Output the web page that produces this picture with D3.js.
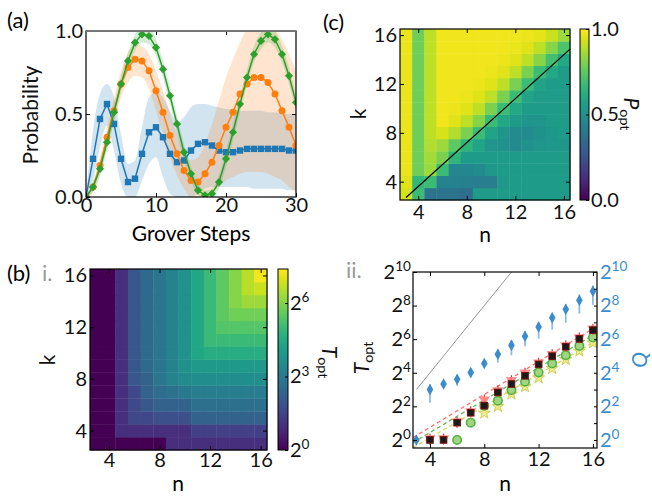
<!DOCTYPE html>
<html>
<head>
<meta charset="utf-8">
<script src="https://cdn.jsdelivr.net/npm/d3@7"></script>
<style>
  body { margin: 0; background: #fff; }
  svg { display: block; font-family: Lato, "DejaVu Sans", sans-serif; }
</style>
</head>
<body>
<div id="chart"></div>
<script>
// ---------- panel (a): success probability vs Grover steps
const steps = d3.range(0, 31);
const probBlue   = [0, 0.23, 0.47, 0.56, 0.44, 0.23, 0.09, 0.11, 0.26, 0.39, 0.42, 0.36, 0.26, 0.21, 0.22, 0.28, 0.32, 0.33, 0.31, 0.28, 0.27, 0.27, 0.28, 0.29, 0.29, 0.29, 0.29, 0.29, 0.29, 0.28, 0.28];
const blueHi     = [0, 0.40, 0.62, 0.68, 0.60, 0.38, 0.20, 0.22, 0.42, 0.60, 0.63, 0.60, 0.52, 0.45, 0.48, 0.54, 0.56, 0.56, 0.55, 0.54, 0.53, 0.53, 0.52, 0.52, 0.52, 0.52, 0.51, 0.51, 0.50, 0.50, 0.50];
const blueLo     = [0, 0.10, 0.30, 0.43, 0.28, 0.08, 0.00, 0.00, 0.10, 0.20, 0.24, 0.12, 0.02, 0.00, 0.00, 0.00, 0.02, 0.05, 0.06, 0.06, 0.06, 0.06, 0.06, 0.06, 0.05, 0.05, 0.05, 0.05, 0.05, 0.04, 0.04];
const probOrange = [0, 0.06, 0.19, 0.36, 0.52, 0.68, 0.78, 0.83, 0.82, 0.76, 0.64, 0.51, 0.37, 0.26, 0.16, 0.10, 0.09, 0.14, 0.21, 0.31, 0.42, 0.51, 0.62, 0.68, 0.72, 0.72, 0.69, 0.62, 0.52, 0.42, 0.31];
const orangeHi   = [0, 0.09, 0.24, 0.42, 0.60, 0.76, 0.87, 0.92, 0.91, 0.86, 0.76, 0.64, 0.50, 0.38, 0.28, 0.22, 0.24, 0.32, 0.44, 0.58, 0.72, 0.83, 0.93, 1.00, 1.00, 1.00, 1.00, 1.00, 0.95, 0.86, 0.76];
const orangeLo   = [0, 0.03, 0.14, 0.30, 0.45, 0.60, 0.69, 0.73, 0.72, 0.65, 0.52, 0.38, 0.24, 0.13, 0.05, 0.00, 0.00, 0.00, 0.02, 0.06, 0.10, 0.12, 0.14, 0.15, 0.15, 0.15, 0.14, 0.12, 0.10, 0.06, 0.03];
const probGreen  = [0, 0.06, 0.17, 0.33, 0.51, 0.68, 0.82, 0.93, 0.98, 0.97, 0.90, 0.77, 0.61, 0.44, 0.27, 0.14, 0.04, 0.01, 0.02, 0.09, 0.23, 0.39, 0.56, 0.72, 0.86, 0.94, 0.98, 0.95, 0.86, 0.73, 0.57];
const greenHi    = [0, 0.09, 0.21, 0.38, 0.56, 0.73, 0.87, 0.98, 1.03, 1.02, 0.95, 0.82, 0.66, 0.49, 0.32, 0.18, 0.08, 0.04, 0.05, 0.13, 0.28, 0.44, 0.61, 0.77, 0.91, 0.99, 1.03, 1.00, 0.91, 0.78, 0.62];
const greenLo    = [0, 0.03, 0.13, 0.28, 0.46, 0.63, 0.77, 0.88, 0.93, 0.92, 0.85, 0.72, 0.56, 0.39, 0.22, 0.10, 0.01, 0.00, 0.00, 0.05, 0.18, 0.34, 0.51, 0.67, 0.81, 0.89, 0.93, 0.90, 0.81, 0.68, 0.52];

// ---------- panel (c): P_opt grid, rows k = 3..16, columns n = 3..16
const nVals = [3, 4, 5, 6, 7, 8, 9, 10, 11, 12, 13, 14, 15, 16];
const kVals = [3, 4, 5, 6, 7, 8, 9, 10, 11, 12, 13, 14, 15, 16];
const pOpt = [
  [0.93, 0.68, 0.38, 0.38, 0.38, 0.36, 0.55, 0.55, 0.55, 0.55, 0.55, 0.55, 0.55, 0.55],
  [0.95, 0.66, 0.68, 0.44, 0.44, 0.43, 0.42, 0.42, 0.53, 0.55, 0.55, 0.55, 0.55, 0.55],
  [0.97, 0.78, 0.85, 0.68, 0.46, 0.46, 0.48, 0.53, 0.55, 0.55, 0.55, 0.55, 0.55, 0.55],
  [0.97, 0.78, 0.86, 0.80, 0.65, 0.55, 0.55, 0.55, 0.55, 0.55, 0.55, 0.55, 0.55, 0.55],
  [0.97, 0.78, 0.88, 0.85, 0.75, 0.65, 0.58, 0.52, 0.50, 0.48, 0.50, 0.52, 0.53, 0.53],
  [0.97, 0.78, 0.90, 0.94, 0.88, 0.80, 0.68, 0.58, 0.52, 0.48, 0.48, 0.50, 0.53, 0.55],
  [0.97, 0.78, 0.90, 0.98, 0.95, 0.90, 0.82, 0.68, 0.60, 0.55, 0.52, 0.52, 0.55, 0.55],
  [0.97, 0.78, 0.90, 0.98, 0.97, 0.95, 0.90, 0.80, 0.68, 0.60, 0.55, 0.55, 0.55, 0.55],
  [0.97, 0.78, 0.90, 0.98, 0.98, 0.97, 0.95, 0.90, 0.80, 0.68, 0.58, 0.55, 0.55, 0.55],
  [0.97, 0.78, 0.90, 0.98, 0.98, 0.98, 0.97, 0.95, 0.90, 0.80, 0.68, 0.58, 0.55, 0.55],
  [0.97, 0.78, 0.90, 0.98, 0.98, 0.98, 0.98, 0.97, 0.95, 0.90, 0.80, 0.68, 0.60, 0.55],
  [0.97, 0.78, 0.90, 0.98, 0.98, 0.98, 0.98, 0.98, 0.97, 0.95, 0.90, 0.82, 0.70, 0.60],
  [0.97, 0.78, 0.90, 0.98, 0.98, 0.98, 0.98, 0.98, 0.98, 0.97, 0.95, 0.90, 0.82, 0.72],
  [0.97, 0.78, 0.90, 0.98, 0.98, 0.98, 0.98, 0.98, 0.98, 0.98, 0.97, 0.96, 0.92, 0.85]
];
const diagLine = [[3, 2.7], [16.5, 14.85]];

// ---------- panel (b)i: log2(T_opt) grid, rows k = 3..16, columns n = 3..16
const tOptExp = [
  [0, 0, 0, 0, 0, 0, 1, 1, 1, 1, 1, 1, 1, 1],
  [0, 0, 1, 1, 1, 1, 1, 1, 1.4, 1.4, 1.4, 1.4, 1.4, 1.4],
  [0, 0, 1, 1.6, 1.6, 1.8, 1.8, 1.8, 2.3, 2.3, 2.3, 2.3, 2.3, 2.3],
  [0, 0, 1, 1.6, 2.0, 2.3, 2.3, 2.3, 2.7, 2.7, 2.7, 2.7, 2.7, 2.7],
  [0, 0, 1, 1.6, 2.3, 2.6, 2.8, 3.0, 3.1, 3.1, 3.1, 3.1, 3.1, 3.1],
  [0, 0, 1, 2.0, 2.3, 2.9, 3.3, 3.5, 3.6, 3.6, 3.6, 3.6, 3.6, 3.6],
  [0, 0, 1, 2.0, 2.5, 2.9, 3.3, 3.7, 4.0, 4.0, 4.0, 4.0, 4.0, 4.0],
  [0, 0, 1, 2.0, 2.5, 2.9, 3.3, 3.7, 4.4, 4.6, 4.6, 4.6, 4.6, 4.6],
  [0, 0, 1, 2.0, 2.5, 2.9, 3.3, 3.7, 4.4, 5.0, 5.0, 5.0, 5.0, 5.0],
  [0, 0, 1, 2.0, 2.5, 2.9, 3.3, 3.7, 4.4, 5.0, 5.4, 5.4, 5.4, 5.4],
  [0, 0, 1, 2.0, 2.5, 2.9, 3.3, 3.7, 4.4, 5.0, 5.55, 5.8, 5.8, 5.8],
  [0, 0, 1, 2.0, 2.5, 2.9, 3.3, 3.7, 4.4, 5.0, 5.55, 6.05, 6.3, 6.3],
  [0, 0, 1, 2.0, 2.5, 2.9, 3.3, 3.7, 4.4, 5.0, 5.55, 6.05, 6.6, 6.8],
  [0, 0, 1, 2.0, 2.5, 2.9, 3.3, 3.7, 4.4, 5.0, 5.55, 6.05, 6.6, 7.25]
];
const tOptMaxExp = 7.39;

// ---------- panel (b)ii: log2 values vs n
const nQ      = [3, 4, 5, 6, 7, 8, 9, 10, 11, 12, 13, 14, 15, 16];
const qExp    = [0, 3.01, 3.33, 3.62, 4.02, 4.55, 5.1, 5.64, 6.18, 6.73, 7.27, 7.78, 8.32, 8.85];
const qErrUp  = [0.1, 0.3, 0.15, 0.25, 0.25, 0.15, 0.3, 0.3, 0.3, 0.3, 0.3, 0.3, 0.35, 0.35];
const qErrDn  = [0.1, 0.8, 0.2, 0.4, 0.3, 0.2, 0.5, 0.6, 0.6, 0.7, 0.7, 0.8, 0.8, 0.8];
const nT      = [4, 5, 6, 7, 8, 9, 10, 11, 12, 13, 14, 15, 16];
const tBlack  = [0, 0, 1.03, 1.62, 2.04, 2.83, 3.33, 3.82, 4.5, 4.99, 5.55, 6.02, 6.54];
const tRed    = [0.08, 0.08, 1.08, 1.7, 2.4, 2.95, 3.55, 4.0, 4.6, 5.1, 5.62, 6.1, 6.62];
const nGreen  = [6, 7, 8, 9, 10, 11, 12, 13, 14, 15, 16];
const tGreen  = [0, 1.03, 2.04, 2.34, 2.97, 3.47, 4.02, 4.55, 5.05, 5.6, 6.1];
const nStar   = [8, 9, 10, 11, 12, 13, 14, 15, 16];
const tStar   = [1.6, 2.0, 2.73, 3.17, 3.7, 4.26, 4.79, 5.29, 5.78];
const fitRed    = [[2.75, 0.14], [16.3, 6.77]];
const fitGreen  = [[2.75, -0.16], [16.3, 6.38]];
const fitYellow = [[2.75, -0.46], [16.3, 5.94]];
const refLine   = [[3, 3], [10, 10]];

const FONT = 20;
const svg = d3.select("#chart").append("svg").attr("width", 652).attr("height", 496);
const defs = svg.append("defs");

function styleAxis(g, color = "#111") {
  g.attr("font-family", null).attr("font-size", FONT);
  g.select(".domain").remove();
  g.selectAll(".tick line").attr("stroke", "#000").attr("stroke-width", 1);
  g.selectAll(".tick text").attr("fill", color);
}
function powLabels(g) {
  g.selectAll(".tick text").each(function (d) {
    const t = d3.select(this).text(null);
    t.append("tspan").text("2");
    t.append("tspan").attr("dy", "-0.55em").attr("font-size", "0.68em").text(d);
  });
}
function frame(x0, y0, x1, y1) {
  svg.append("rect").attr("x", x0).attr("y", y0).attr("width", x1 - x0).attr("height", y1 - y0)
    .attr("fill", "none").attr("stroke", "#000").attr("stroke-width", 1.2);
}
function mirrorTicks(x, y, xt, yt) {
  svg.append("g").attr("transform", `translate(0,${y.range()[1]})`)
    .call(d3.axisTop(x).tickValues(xt).tickSizeInner(-4).tickSizeOuter(0).tickFormat(""))
    .call(styleAxis);
  svg.append("g").attr("transform", `translate(${x.range()[1]},0)`)
    .call(d3.axisRight(y).tickValues(yt).tickSizeInner(-4).tickSizeOuter(0).tickFormat(""))
    .call(styleAxis);
}
function rotLabel(x, y, angle, main, sub, italic, color = "#111") {
  const t = svg.append("text").attr("transform", `translate(${x},${y}) rotate(${angle})`)
    .attr("text-anchor", "middle").attr("font-size", 21).attr("fill", color);
  t.append("tspan").attr("font-style", italic ? "italic" : null).text(main);
  if (sub) t.append("tspan").attr("dy", "0.3em").attr("font-size", "0.68em").text(sub);
}
function colorbar(id, x0, y0, w, h, interp) {
  const grad = defs.append("linearGradient").attr("id", id)
    .attr("x1", 0).attr("y1", 1).attr("x2", 0).attr("y2", 0);
  d3.range(0, 1.0001, 0.05).forEach(t =>
    grad.append("stop").attr("offset", t).attr("stop-color", interp(t)));
  svg.append("rect").attr("x", x0).attr("y", y0).attr("width", w).attr("height", h)
    .attr("fill", `url(#${id})`).attr("stroke", "#000").attr("stroke-width", 1);
}
function heatmap(grid, x, y, color) {
  const cells = [];
  kVals.forEach((k, i) => nVals.forEach((n, j) => cells.push({ n, k, v: grid[i][j] })));
  svg.append("g").selectAll("rect").data(cells).join("rect")
    .attr("x", d => x(d.n - 0.5)).attr("y", d => y(d.k + 0.5))
    .attr("width", d => x(d.n + 0.5) - x(d.n - 0.5) + 0.4)
    .attr("height", d => y(d.k - 0.5) - y(d.k + 0.5) + 0.4)
    .attr("fill", d => color(d.v));
}

// ================= panel (a)
const aX = d3.scaleLinear().domain([0, 30]).range([86, 296]);
const aY = d3.scaleLinear().domain([0, 1]).range([197, 31]);
defs.append("clipPath").attr("id", "clipA").append("rect")
  .attr("x", 86).attr("y", 31).attr("width", 210).attr("height", 166);
const plotA = svg.append("g").attr("clip-path", "url(#clipA)");
const series = [
  { v: probBlue, lo: blueLo, hi: blueHi, color: "#1f77b4", mark: "square" },
  { v: probOrange, lo: orangeLo, hi: orangeHi, color: "#ff7f0e", mark: "circle" },
  { v: probGreen, lo: greenLo, hi: greenHi, color: "#2ca02c", mark: "diamond" }
];
series.forEach(s => {
  plotA.append("path")
    .datum(steps)
    .attr("d", d3.area().curve(d3.curveMonotoneX)
      .x(i => aX(i)).y0(i => aY(s.lo[i])).y1(i => aY(s.hi[i])))
    .attr("fill", s.color).attr("fill-opacity", 0.2);
});
series.forEach(s => {
  plotA.append("path").datum(steps)
    .attr("d", d3.line().x(i => aX(i)).y(i => aY(s.v[i])))
    .attr("fill", "none").attr("stroke", s.color).attr("stroke-width", 1.5);
  const m = plotA.append("g").selectAll("g").data(steps).join("g")
    .attr("transform", i => `translate(${aX(i)},${aY(s.v[i])})`);
  if (s.mark === "square") m.append("rect").attr("x", -3.2).attr("y", -3.2).attr("width", 6.4).attr("height", 6.4).attr("fill", s.color);
  if (s.mark === "circle") m.append("circle").attr("r", 3.5).attr("fill", s.color);
  if (s.mark === "diamond") m.append("rect").attr("x", -2.9).attr("y", -2.9).attr("width", 5.8).attr("height", 5.8)
    .attr("transform", "rotate(45)").attr("fill", s.color);
});
svg.append("g").attr("transform", "translate(0,197)")
  .call(d3.axisBottom(aX).tickValues([0, 10, 20, 30]).tickSizeInner(-4).tickSizeOuter(0).tickPadding(1))
  .call(styleAxis);
svg.append("g").attr("transform", "translate(86,0)")
  .call(d3.axisLeft(aY).tickValues([0, 0.5, 1]).tickFormat(d3.format(".1f")).tickSizeInner(-4).tickSizeOuter(0).tickPadding(3))
  .call(styleAxis);
mirrorTicks(aX, aY, [10, 20], [0.5]);
frame(86, 31, 296, 197);
svg.append("line").attr("x1", 86).attr("x2", 296).attr("y1", aY(1)).attr("y2", aY(1))
  .attr("stroke", "#777").attr("stroke-width", 2);
rotLabel(38, 115, -90, "Probability");
svg.append("text").attr("x", 191).attr("y", 241).attr("text-anchor", "middle").attr("font-size", 21).text("Grover Steps");
svg.append("text").attr("x", 7).attr("y", 28).attr("font-size", 22).text("(a)");

// ================= panel (c)
const cX = d3.scaleLinear().domain([2.5, 16.5]).range([400, 570]);
const cY = d3.scaleLinear().domain([2.5, 16.5]).range([200, 29]);
heatmap(pOpt, cX, cY, d3.scaleSequential(d3.interpolateViridis).domain([0, 1]));
svg.append("path").datum(diagLine)
  .attr("d", d3.line().x(d => cX(d[0])).y(d => cY(d[1])))
  .attr("stroke", "#000").attr("stroke-width", 1.2).attr("fill", "none");
svg.append("g").attr("transform", "translate(0,200)")
  .call(d3.axisBottom(cX).tickValues([4, 8, 12, 16]).tickSizeInner(-4).tickSizeOuter(0).tickPadding(5))
  .call(styleAxis);
svg.append("g").attr("transform", "translate(400,0)")
  .call(d3.axisLeft(cY).tickValues([4, 8, 12, 16]).tickSizeInner(-4).tickSizeOuter(0).tickPadding(3))
  .call(styleAxis);
mirrorTicks(cX, cY, [4, 8, 12, 16], [4, 8, 12, 16]);
frame(400, 29, 570, 200);
colorbar("cbC", 580, 29, 9, 171, d3.interpolateViridis);
const cbC = d3.scaleLinear().domain([0, 1]).range([200, 29]);
svg.append("g").attr("transform", "translate(589,0)")
  .call(d3.axisRight(cbC).tickValues([0, 0.5, 1]).tickFormat(d3.format(".1f")).tickSizeInner(-3).tickSizeOuter(0).tickPadding(2))
  .call(styleAxis);
rotLabel(624, 114, 90, "P", "opt", true);
rotLabel(366, 114, -90, "k");
svg.append("text").attr("x", 485).attr("y", 242).attr("text-anchor", "middle").attr("font-size", 21).text("n");
svg.append("text").attr("x", 323).attr("y", 30).attr("font-size", 22).text("(c)");

// ================= panel (b)i
const bX = d3.scaleLinear().domain([2.5, 16.5]).range([90, 267]);
const bY = d3.scaleLinear().domain([2.5, 16.5]).range([450, 269]);
heatmap(tOptExp, bX, bY, d3.scaleSequential(d3.interpolateViridis).domain([0, tOptMaxExp]));
svg.append("g").attr("transform", "translate(0,450)")
  .call(d3.axisBottom(bX).tickValues([4, 8, 12, 16]).tickSizeInner(-4).tickSizeOuter(0).tickPadding(3))
  .call(styleAxis);
svg.append("g").attr("transform", "translate(90,0)")
  .call(d3.axisLeft(bY).tickValues([4, 8, 12, 16]).tickSizeInner(-4).tickSizeOuter(0).tickPadding(3))
  .call(styleAxis);
mirrorTicks(bX, bY, [4, 8, 12, 16], [4, 8, 12, 16]);
frame(90, 269, 267, 450);
colorbar("cbB", 278, 269, 10, 181, d3.interpolateViridis);
const cbB = d3.scaleLinear().domain([0, tOptMaxExp]).range([450, 269]);
svg.append("g").attr("transform", "translate(288,0)")
  .call(d3.axisRight(cbB).tickValues([0, 3, 6]).tickSizeInner(-3).tickSizeOuter(0).tickPadding(2))
  .call(styleAxis).call(powLabels);
rotLabel(322, 362, 90, "T", "opt", true);
rotLabel(55, 360, -90, "k");
svg.append("text").attr("x", 178).attr("y", 491).attr("text-anchor", "middle").attr("font-size", 21).text("n");
svg.append("text").attr("x", 7).attr("y", 281).attr("font-size", 22).text("(b)");
svg.append("text").attr("x", 42).attr("y", 281).attr("font-size", 22).attr("fill", "#999").text("i.");

// ================= panel (b)ii
const qBlue = "#3a8ccc";
const pX = d3.scaleLinear().domain([2.75, 16.3]).range([413, 597]);
const pY = d3.scaleLinear().domain([-0.48, 10]).range([448, 272]);
defs.append("clipPath").attr("id", "clipP").append("rect")
  .attr("x", 413).attr("y", 272).attr("width", 184).attr("height", 176);
const plotP = svg.append("g").attr("clip-path", "url(#clipP)");
const seg = d3.line().x(d => pX(d[0])).y(d => pY(d[1]));
plotP.append("path").datum(refLine).attr("d", seg).attr("stroke", "#666").attr("stroke-width", 0.7).attr("fill", "none");
[[fitRed, "#ff6f6f"], [fitGreen, "#5cb85c"], [fitYellow, "#d6d65a"]].forEach(([d, c]) =>
  plotP.append("path").datum(d).attr("d", seg).attr("stroke", c).attr("stroke-width", 1.3)
    .attr("stroke-dasharray", "4,3").attr("fill", "none"));
plotP.append("g").selectAll("path").data(nStar).join("path")
  .attr("d", d3.symbol(d3.symbolStar, 45))
  .attr("transform", (n, i) => `translate(${pX(n)},${pY(tStar[i])})`)
  .attr("fill", "#ecec8a").attr("stroke", "#cfcf55").attr("stroke-width", 1);
plotP.append("g").selectAll("circle").data(nGreen).join("circle")
  .attr("cx", n => pX(n)).attr("cy", (n, i) => pY(tGreen[i])).attr("r", 4.2)
  .attr("fill", "#9fd67f").attr("stroke", "#55b046").attr("stroke-width", 1.6);
plotP.append("g").selectAll("line").data(nT).join("line")
  .attr("x1", n => pX(n)).attr("x2", n => pX(n))
  .attr("y1", (n, i) => pY(tRed[i] + 0.3)).attr("y2", (n, i) => pY(tRed[i] - 0.35))
  .attr("stroke", "#d03030").attr("stroke-width", 1.2);
plotP.append("g").selectAll("path").data(nT).join("path")
  .attr("d", d3.symbol(d3.symbolTriangle, 55))
  .attr("transform", (n, i) => `translate(${pX(n)},${pY(tRed[i])}) rotate(180)`)
  .attr("fill", "#ff8080").attr("fill-opacity", 0.85);
plotP.append("g").selectAll("rect").data(nT).join("rect")
  .attr("x", n => pX(n) - 3.3).attr("y", (n, i) => pY(tBlack[i]) - 3.3)
  .attr("width", 6.6).attr("height", 6.6)
  .attr("fill", "#1a1a1a").attr("stroke", "#7a1010").attr("stroke-width", 1);
plotP.append("g").selectAll("line").data(nQ).join("line")
  .attr("x1", n => pX(n)).attr("x2", n => pX(n))
  .attr("y1", (n, i) => pY(qExp[i] + qErrUp[i])).attr("y2", (n, i) => pY(qExp[i] - qErrDn[i]))
  .attr("stroke", "#8dbde6").attr("stroke-width", 1.8);
plotP.append("g").selectAll("path").data(nQ).join("path")
  .attr("d", d3.symbol(d3.symbolDiamond, 38))
  .attr("transform", (n, i) => `translate(${pX(n)},${pY(qExp[i])})`)
  .attr("fill", qBlue);
svg.append("g").attr("transform", "translate(0,448)")
  .call(d3.axisBottom(pX).tickValues([4, 8, 12, 16]).tickSizeInner(-4).tickSizeOuter(0).tickPadding(4))
  .call(styleAxis);
svg.append("g").attr("transform", "translate(0,272)")
  .call(d3.axisTop(pX).tickValues([4, 8, 12, 16]).tickSizeInner(-4).tickSizeOuter(0).tickFormat(""))
  .call(styleAxis);
svg.append("g").attr("transform", "translate(413,0)")
  .call(d3.axisLeft(pY).tickValues([0, 2, 4, 6, 8, 10]).tickSizeInner(-4).tickSizeOuter(0).tickPadding(2))
  .call(styleAxis).call(powLabels);
svg.append("g").attr("transform", "translate(597,0)")
  .call(d3.axisRight(pY).tickValues([0, 1, 2, 3, 4, 5, 6, 7, 8, 9, 10]).tickSizeInner(-3).tickSizeOuter(0).tickFormat(""))
  .call(styleAxis);
svg.append("g").attr("transform", "translate(597,0)")
  .call(d3.axisRight(pY).tickValues([0, 2, 4, 6, 8, 10]).tickSizeInner(0).tickSizeOuter(0).tickPadding(3))
  .call(g => styleAxis(g, qBlue)).call(powLabels);
frame(413, 272, 597, 448);
rotLabel(369, 358, -90, "T", "opt", true);
rotLabel(647, 360, -90, "Q", null, true, qBlue);
svg.append("text").attr("x", 505).attr("y", 491).attr("text-anchor", "middle").attr("font-size", 21).text("n");
svg.append("text").attr("x", 346).attr("y", 278).attr("font-size", 22).attr("fill", "#999").text("ii.");
</script>
</body>
</html>
